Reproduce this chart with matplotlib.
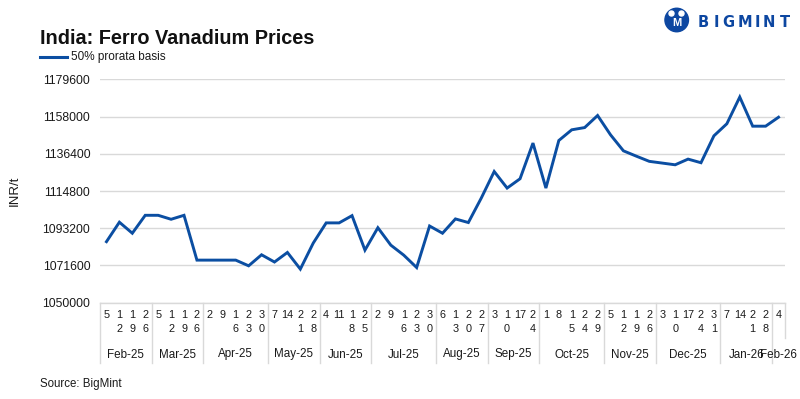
import matplotlib
matplotlib.use("Agg")
import matplotlib.pyplot as plt
import matplotlib.transforms as mtransforms
from matplotlib.lines import Line2D
from matplotlib.patches import Ellipse
import pandas as pd

plt.rcParams['font.family'] = ['Liberation Sans', 'DejaVu Sans']

# ---------------- data ----------------
dates = [
    "2025-02-05", "2025-02-12", "2025-02-19", "2025-02-26",
    "2025-03-05", "2025-03-12", "2025-03-19", "2025-03-26",
    "2025-04-02", "2025-04-09", "2025-04-16", "2025-04-23", "2025-04-30",
    "2025-05-07", "2025-05-14", "2025-05-21", "2025-05-28",
    "2025-06-04", "2025-06-11", "2025-06-18", "2025-06-25",
    "2025-07-02", "2025-07-09", "2025-07-16", "2025-07-23", "2025-07-30",
    "2025-08-06", "2025-08-13", "2025-08-20", "2025-08-27",
    "2025-09-03", "2025-09-10", "2025-09-17", "2025-09-24",
    "2025-10-01", "2025-10-08", "2025-10-15", "2025-10-24", "2025-10-29",
    "2025-11-05", "2025-11-12", "2025-11-19", "2025-11-26",
    "2025-12-03", "2025-12-10", "2025-12-17", "2025-12-24", "2025-12-31",
    "2026-01-07", "2026-01-14", "2026-01-21", "2026-01-28",
    "2026-02-04",
]
prices = [
    1085400, 1096700, 1090300, 1100700,
    1100700, 1098400, 1100700, 1074700,
    1074700, 1074700, 1074700, 1071400, 1077800,
    1073600, 1079150, 1069500, 1084600,
    1096300, 1096300, 1100500, 1080500,
    1093500, 1083400, 1077600, 1070400, 1094500,
    1090300, 1098600, 1096500, 1110700,
    1126100, 1116500, 1121900, 1142600,
    1116500, 1144100, 1150300, 1151600, 1158600,
    1147400, 1138100, 1135000, 1132000,
    1131000, 1130000, 1133300, 1131200, 1146800,
    1153800, 1169300, 1152400, 1152400,
    1157600,
]
day_labels = [
    "5", "1\n2", "1\n9", "2\n6",
    "5", "1\n2", "1\n9", "2\n6",
    "2", "9", "1\n6", "2\n3", "3\n0",
    "7", "14", "2\n1", "2\n8",
    "4", "11", "1\n8", "2\n5",
    "2", "9", "1\n6", "2\n3", "3\n0",
    "6", "1\n3", "2\n0", "2\n7",
    "3", "1\n0", "17", "2\n4",
    "1", "8", "1\n5", "2\n4", "2\n9",
    "5", "1\n2", "1\n9", "2\n6",
    "3", "1\n0", "17", "2\n4", "3\n1",
    "7", "14", "2\n1", "2\n8",
    "4",
]
y_ticks = [1050000, 1071600, 1093200, 1114800, 1136400, 1158000, 1179600]
series_name = "50% prorata basis"

# ---------------- figure ----------------
W, H = 800, 399
fig = plt.figure(figsize=(W / 100, H / 100), dpi=100)

def fy(px):
    return 1 - px / H

def fx(px):
    return px / W

ax_l, ax_r, ax_t, ax_b = 100, 785, 79.3, 302.7
ax = fig.add_axes([fx(ax_l), fy(ax_b), fx(ax_r - ax_l), (ax_b - ax_t) / H])

blue = "#0b4ea2"
grid_c = "#d9d9d9"
txt_c = "#1a1a1a"

x = list(range(len(prices)))
ax.plot(x, prices, color=blue, lw=2.1, solid_joinstyle='miter', zorder=3)

ax.set_xlim(-0.5, len(prices) - 0.5)
ax.set_ylim(y_ticks[0], y_ticks[-1])
ax.set_yticks(y_ticks)
ax.set_yticklabels([str(v) for v in y_ticks], fontsize=8.8, color=txt_c)
ax.tick_params(axis='y', length=0, pad=7)
ax.set_xticks([])
ax.yaxis.grid(True, color=grid_c, lw=1.0)
ax.set_axisbelow(True)
for s in ["top", "right", "left"]:
    ax.spines[s].set_visible(False)
ax.spines["bottom"].set_color(grid_c)
ax.spines["bottom"].set_linewidth(1.0)

ax.set_ylabel("INR/t", fontsize=9.5, color=txt_c)
ax.yaxis.set_label_coords((20.5 - ax_l) / (ax_r - ax_l), 0.5)

trans = mtransforms.blended_transform_factory(ax.transData, fig.transFigure)

# day tick labels
for xi, lab in zip(x, day_labels):
    ax.text(xi, fy(310.5), lab, transform=trans, ha='center', va='top',
            fontsize=7.8, linespacing=1.5, color=txt_c, clip_on=False)

# month groups
dt = pd.to_datetime(pd.Series(dates))
months = dt.dt.strftime("%b-%y")
groups = []
for i, m in enumerate(months):
    if not groups or groups[-1][0] != m:
        groups.append([m, i, i])
    else:
        groups[-1][2] = i

for gi, (m, s, e) in enumerate(groups):
    ax.text((s + e) / 2, fy(354.5), m, transform=trans, ha='center', va='center',
            fontsize=8.4, color=txt_c, clip_on=False)
    ax.add_line(Line2D([s - 0.5, s - 0.5], [fy(ax_b), fy(363)], transform=trans,
                       color=grid_c, lw=1.0, clip_on=False))
last_end = groups[-1][2] + 0.5
ax.add_line(Line2D([last_end, last_end], [fy(ax_b), fy(338)], transform=trans,
                   color=grid_c, lw=1.0, clip_on=False))

# title & legend
fig.text(fx(39.5), fy(43.5), "India: Ferro Vanadium Prices", fontsize=14.3,
         fontweight='bold', color="#111111", ha='left', va='baseline')
fig.add_artist(Line2D([fx(40), fx(67)], [fy(57), fy(57)], color=blue, lw=2.2))
fig.text(fx(71), fy(57), series_name, fontsize=8.5, color=txt_c,
         ha='left', va='center')

fig.text(fx(40), fy(384), "Source: BigMint", fontsize=8.3, color=txt_c,
         ha='left', va='center')

# logo
logo_ax = fig.add_axes([0, 0, 1, 1], facecolor='none')
logo_ax.set_xlim(0, W)
logo_ax.set_ylim(H, 0)
logo_ax.axis('off')
logo_ax.add_patch(Ellipse((676.7, 20), 23.5, 23.5, color="#0d47a1"))
logo_ax.add_patch(Ellipse((671.5, 13.5), 5, 5, color="white"))
logo_ax.add_patch(Ellipse((681.5, 13.5), 5, 5, color="white"))
logo_ax.text(676.7, 23.5, "M", color="white", fontsize=8, fontweight='bold',
             ha='center', va='center')
for ch, cx in zip("BIGMINT", [703.5, 716.3, 728.7, 744.7, 757.3, 768.7, 785]):
    logo_ax.text(cx, 22.5, ch, color="#0d47a1", fontsize=10.5, fontweight='bold',
                 ha='center', va='center', family='DejaVu Sans')

fig.savefig("out.png", dpi=100)
